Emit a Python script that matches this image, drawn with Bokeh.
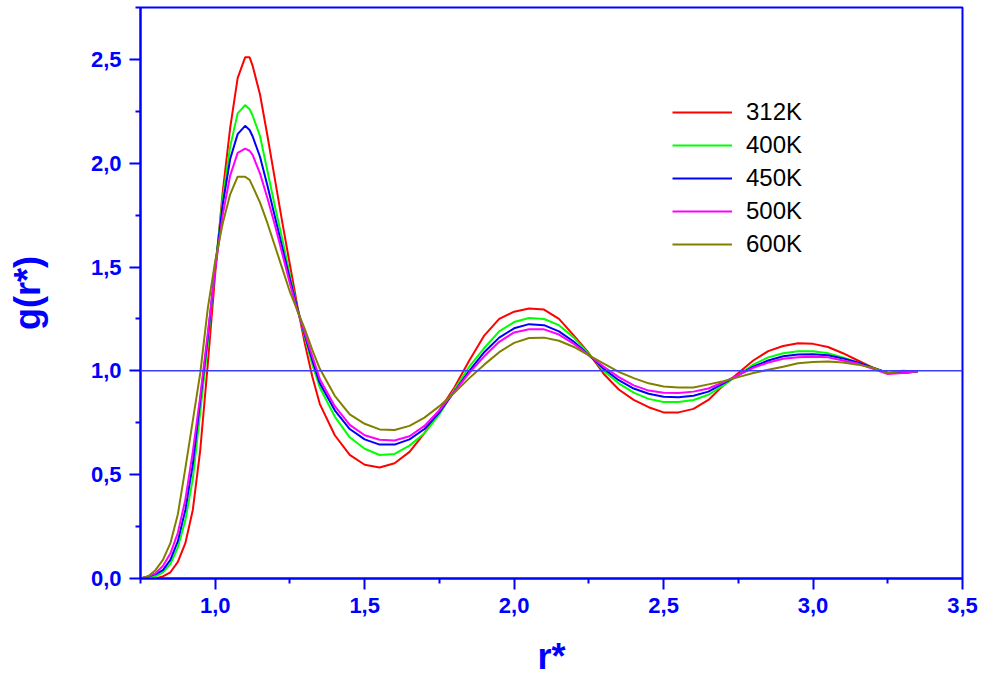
from bokeh.plotting import figure
from bokeh.models import FixedTicker, Span, Legend, LegendItem
from bokeh.embed import file_html
from bokeh.resources import INLINE

# ---------------- data ----------------
r = [0.75, 0.775, 0.80, 0.825, 0.85, 0.875, 0.90, 0.925, 0.95, 0.975,
     1.00, 1.025, 1.05, 1.075, 1.10, 1.115, 1.125, 1.15, 1.175, 1.20, 1.225,
     1.25, 1.275, 1.30, 1.325, 1.35,
     1.40, 1.45, 1.50, 1.55, 1.60, 1.65, 1.70, 1.75, 1.80, 1.85,
     1.90, 1.95, 2.00, 2.05, 2.10, 2.15, 2.20, 2.25, 2.30, 2.35,
     2.40, 2.45, 2.50, 2.55, 2.60, 2.65, 2.70, 2.75, 2.80, 2.85,
     2.90, 2.95, 3.00, 3.05, 3.10, 3.15, 3.20, 3.25, 3.30, 3.35]

g_312K = [0.0, 0.0, 0.0, 0.01, 0.03, 0.08, 0.17, 0.33, 0.62, 1.03,
          1.47, 1.86, 2.17, 2.41, 2.51, 2.51, 2.47, 2.33, 2.13, 1.92, 1.71,
          1.51, 1.31, 1.13, 0.97, 0.84,
          0.69, 0.595, 0.548, 0.535, 0.555, 0.61, 0.70, 0.81, 0.92, 1.05,
          1.17, 1.25, 1.285, 1.30, 1.295, 1.25, 1.17, 1.085, 0.985, 0.91,
          0.86, 0.825, 0.80, 0.80, 0.817, 0.86, 0.93, 0.99, 1.05, 1.095,
          1.12, 1.133, 1.13, 1.115, 1.085, 1.05, 1.015, 0.99, 0.995, 0.997]

g_400K = [0.0, 0.005, 0.01, 0.03, 0.07, 0.15, 0.28, 0.48, 0.80, 1.13,
          1.50, 1.83, 2.08, 2.24, 2.28, 2.26, 2.23, 2.13, 1.96, 1.79, 1.63,
          1.46, 1.30, 1.16, 1.03, 0.92,
          0.78, 0.68, 0.625, 0.595, 0.60, 0.64, 0.70, 0.79, 0.91, 1.02,
          1.11, 1.19, 1.235, 1.255, 1.25, 1.22, 1.16, 1.08, 1.00, 0.94,
          0.895, 0.865, 0.85, 0.85, 0.86, 0.885, 0.93, 0.98, 1.03, 1.065,
          1.085, 1.095, 1.095, 1.085, 1.065, 1.04, 1.015, 0.99, 0.99, 0.997]

g_450K = [0.0, 0.01, 0.02, 0.04, 0.09, 0.18, 0.33, 0.55, 0.86, 1.16,
          1.50, 1.80, 2.02, 2.14, 2.18, 2.16, 2.13, 2.03, 1.89, 1.74, 1.59,
          1.44, 1.30, 1.17, 1.05, 0.94,
          0.81, 0.72, 0.67, 0.645, 0.645, 0.67, 0.72, 0.80, 0.90, 1.00,
          1.09, 1.16, 1.205, 1.225, 1.22, 1.19, 1.14, 1.075, 1.01, 0.955,
          0.915, 0.89, 0.875, 0.873, 0.88, 0.90, 0.94, 0.98, 1.02, 1.05,
          1.07, 1.079, 1.08, 1.075, 1.06, 1.04, 1.015, 0.99, 0.99, 0.997]

g_500K = [0.0, 0.01, 0.025, 0.06, 0.12, 0.22, 0.38, 0.61, 0.88, 1.18,
          1.49, 1.75, 1.94, 2.05, 2.07, 2.06, 2.04, 1.95, 1.83, 1.70, 1.56,
          1.42, 1.29, 1.18, 1.07, 0.96,
          0.83, 0.74, 0.69, 0.668, 0.665, 0.685, 0.735, 0.81, 0.90, 0.99,
          1.07, 1.14, 1.185, 1.20, 1.20, 1.175, 1.13, 1.075, 1.02, 0.97,
          0.93, 0.905, 0.895, 0.893, 0.90, 0.915, 0.945, 0.98, 1.015, 1.04,
          1.058, 1.066, 1.068, 1.065, 1.05, 1.035, 1.01, 0.985, 0.99, 0.997]

g_600K = [0.0, 0.01, 0.04, 0.09, 0.17, 0.31, 0.53, 0.76, 0.99, 1.30,
          1.53, 1.71, 1.85, 1.935, 1.935, 1.92, 1.89, 1.81, 1.71, 1.60, 1.49,
          1.38, 1.29, 1.20, 1.10, 1.01,
          0.88, 0.79, 0.745, 0.718, 0.715, 0.735, 0.775, 0.83, 0.895, 0.965,
          1.03, 1.09, 1.135, 1.158, 1.16, 1.145, 1.115, 1.075, 1.035, 0.995,
          0.965, 0.94, 0.925, 0.92, 0.92, 0.935, 0.95, 0.97, 0.99, 1.005,
          1.02, 1.037, 1.043, 1.045, 1.04, 1.03, 1.015, 0.99, 1.0, 0.997]

series_names = ["312K", "400K", "450K", "500K", "600K"]
series_values = [g_312K, g_400K, g_450K, g_500K, g_600K]
series_colors = ["#ff0000", "#00ff00", "#0000ff", "#ff00ff", "#808000"]

x_ticks = [1.0, 1.5, 2.0, 2.5, 3.0, 3.5]
x_tick_labels = ["1,0", "1,5", "2,0", "2,5", "3,0", "3,5"]
x_minor = [0.75, 1.25, 1.75, 2.25, 2.75, 3.25]
y_ticks = [0.0, 0.5, 1.0, 1.5, 2.0, 2.5]
y_tick_labels = ["0,0", "0,5", "1,0", "1,5", "2,0", "2,5"]
y_minor = [0.25, 0.75, 1.25, 1.75, 2.25, 2.75]

BLUE = "#0000ff"
FONT = "Liberation Sans"

p = figure(width=982, height=683, x_range=(0.75, 3.5), y_range=(0, 2.75),
           output_backend="svg", toolbar_location=None,
           min_border_left=140, min_border_right=20,
           min_border_top=7, min_border_bottom=105)
p.grid.visible = False
p.outline_line_color = BLUE
p.outline_line_width = 2
p.background_fill_color = "white"
p.border_fill_color = "white"

p.add_layout(Span(location=1.0, dimension="width", line_color="#3c3cff",
                  line_width=1.5))

renderers = []
for name, vals, col in zip(series_names, series_values, series_colors):
    rr = p.line(r, vals, line_color=col, line_width=2)
    renderers.append((name, rr))

for ax, ticks, labels, minor in ((p.xaxis[0], x_ticks, x_tick_labels, x_minor),
                                 (p.yaxis[0], y_ticks, y_tick_labels, y_minor)):
    ax.ticker = FixedTicker(ticks=ticks, minor_ticks=minor)
    ax.major_label_overrides = {t: l for t, l in zip(ticks, labels)}
    ax.axis_line_color = BLUE
    ax.axis_line_width = 2
    ax.major_tick_line_color = BLUE
    ax.major_tick_line_width = 2
    ax.minor_tick_line_color = BLUE
    ax.minor_tick_line_width = 2
    ax.major_tick_in = 0
    ax.minor_tick_in = 0
    ax.major_tick_out = 11
    ax.minor_tick_out = 5
    ax.major_label_text_color = BLUE
    ax.major_label_text_font = FONT
    ax.major_label_text_font_style = "bold"
    ax.major_label_text_font_size = "22px"
    ax.major_label_standoff = 8
    ax.axis_label_text_color = BLUE
    ax.axis_label_text_font = FONT
    ax.axis_label_text_font_style = "bold"
    ax.axis_label_text_font_size = "36px"

p.xaxis.axis_label = "r*"
p.yaxis.axis_label = "g(r*)"
p.xaxis.axis_label_standoff = 20
p.xaxis.axis_label_text_line_height = 1.0
p.yaxis.axis_label_standoff = 40

legend = Legend(items=[LegendItem(label=n, renderers=[rr]) for n, rr in renderers],
                location=(522, 308), glyph_width=60, glyph_height=32,
                label_height=32, spacing=1, label_standoff=14, padding=10,
                label_text_font=FONT, label_text_font_size="24px",
                label_text_color="black", border_line_alpha=0,
                background_fill_alpha=0)
p.add_layout(legend)

open("out.html", "w").write(file_html(p, INLINE))
